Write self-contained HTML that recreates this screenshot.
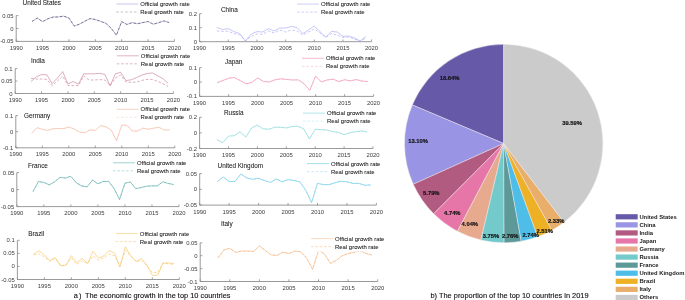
<!DOCTYPE html>
<html><head><meta charset="utf-8"><title>chart</title>
<style>
html,body{margin:0;padding:0;background:#fff;}
body{width:685px;height:300px;overflow:hidden;}
svg{display:block;font-family:"Liberation Sans",sans-serif;will-change:transform;filter:opacity(0.9999);}
.tk{font-size:5.9px;fill:#3a3a3a;}
.lg{font-size:5.95px;fill:#1a1a1a;stroke:#1a1a1a;stroke-width:0.06px;}
.tt{font-size:6.4px;fill:#1a1a1a;stroke:#1a1a1a;stroke-width:0.06px;}
.pl{font-size:5.8px;font-weight:bold;fill:#141414;stroke:#141414;stroke-width:0.18px;}
.pg{font-size:5.85px;font-weight:bold;fill:#1a1a1a;}
.cap{font-size:7.4px;fill:#111;stroke:#111;stroke-width:0.12px;}
</style></head><body>
<svg width="685" height="300" viewBox="0 0 685 300">
<rect width="685" height="300" fill="#fff"/>
<g>
<path d="M16.2 15.6V41.4H174.4" fill="none" stroke="#888888" stroke-width="0.85"/>
<path d="M16.2 41.4v-2.2M42.57 41.4v-2.2M68.93 41.4v-2.2M95.3 41.4v-2.2M121.67 41.4v-2.2M148.03 41.4v-2.2M174.4 41.4v-2.2M16.2 41.4h2.2M16.2 28.5h2.2M16.2 15.6h2.2" fill="none" stroke="#8c8c8c" stroke-width="0.8"/>
<text x="16.2" y="49.8" text-anchor="middle" class="tk">1990</text>
<text x="42.57" y="49.8" text-anchor="middle" class="tk">1995</text>
<text x="68.93" y="49.8" text-anchor="middle" class="tk">2000</text>
<text x="95.3" y="49.8" text-anchor="middle" class="tk">2005</text>
<text x="121.67" y="49.8" text-anchor="middle" class="tk">2010</text>
<text x="148.03" y="49.8" text-anchor="middle" class="tk">2015</text>
<text x="174.4" y="49.8" text-anchor="middle" class="tk">2020</text>
<text x="13.6" y="43.4" text-anchor="end" class="tk">-0.05</text>
<text x="13.6" y="30.5" text-anchor="end" class="tk">0</text>
<text x="13.6" y="17.6" text-anchor="end" class="tk">0.05</text>
<text x="22.6" y="4.8" class="tt">United States</text>
<polyline points="32.02,21.41 37.29,18.1 42.57,21.59 47.84,18.77 53.11,17.02 58.39,16.94 63.66,16.14 68.93,17.97 74.21,26.05 79.48,24.11 84.75,21.28 90.03,18.57 95.3,19.52 100.57,21.33 105.85,23.31 111.12,28.19 116.39,35.21 121.67,21.53 126.94,24.5 132.21,22.62 137.49,23.75 142.76,22.59 148.03,21.51 153.31,24.19 158.58,22.72 163.85,20.89 169.13,22.59" fill="none" stroke="#8f8fd6" stroke-width="0.55" stroke-linejoin="round"/>
<polyline points="32.02,21.41 37.29,18.1 42.57,21.59 47.84,18.77 53.11,17.02 58.39,16.94 63.66,16.14 68.93,17.97 74.21,26.05 79.48,24.11 84.75,21.28 90.03,18.57 95.3,19.52 100.57,21.33 105.85,23.31 111.12,28.19 116.39,35.21 121.67,21.53 126.94,24.5 132.21,22.62 137.49,23.75 142.76,22.59 148.03,21.51 153.31,24.19 158.58,22.72 163.85,20.89 169.13,22.59" fill="none" stroke="#3a3a3a" stroke-width="0.55" stroke-dasharray="2.6 1.8" stroke-linejoin="round"/>
<path d="M116.3 4h22" stroke="#8f8fd6" stroke-width="0.5"/>
<path d="M116.3 12h22" stroke="#8a8a8a" stroke-width="0.5" stroke-dasharray="2.5 1.9"/>
<text x="140.3" y="6" class="lg">Official growth rate</text>
<text x="140.3" y="14" class="lg">Real growth rate</text>
</g>
<g>
<path d="M15.2 68.6V93.5H173.4" fill="none" stroke="#888888" stroke-width="0.85"/>
<path d="M15.2 93.5v-2.2M41.57 93.5v-2.2M67.93 93.5v-2.2M94.3 93.5v-2.2M120.67 93.5v-2.2M147.03 93.5v-2.2M173.4 93.5v-2.2M15.2 93.5h2.2M15.2 81.05h2.2M15.2 68.6h2.2" fill="none" stroke="#8c8c8c" stroke-width="0.8"/>
<text x="15.2" y="101.9" text-anchor="middle" class="tk">1990</text>
<text x="41.57" y="101.9" text-anchor="middle" class="tk">1995</text>
<text x="67.93" y="101.9" text-anchor="middle" class="tk">2000</text>
<text x="94.3" y="101.9" text-anchor="middle" class="tk">2005</text>
<text x="120.67" y="101.9" text-anchor="middle" class="tk">2010</text>
<text x="147.03" y="101.9" text-anchor="middle" class="tk">2015</text>
<text x="173.4" y="101.9" text-anchor="middle" class="tk">2020</text>
<text x="12.6" y="95.5" text-anchor="end" class="tk">0</text>
<text x="12.6" y="83.05" text-anchor="end" class="tk">0.05</text>
<text x="12.6" y="70.6" text-anchor="end" class="tk">0.1</text>
<text x="31" y="62.6" class="tt">India</text>
<polyline points="31.02,81.55 36.29,76.82 41.57,74.58 46.84,74.83 52.11,83.54 57.39,78.06 62.66,71.59 67.93,84.04 73.21,81.55 78.48,84.04 83.75,73.83 89.03,73.83 94.3,73.83 99.57,73.33 104.85,74.33 110.12,85.78 115.39,73.83 120.67,72.33 125.94,80.55 131.21,79.8 136.49,77.56 141.76,75.07 147.03,73.58 152.31,72.83 157.58,75.82 162.85,78.56 168.13,83.29" fill="none" stroke="#c06a86" stroke-width="0.55" stroke-linejoin="round"/>
<polyline points="31.02,78.4 36.29,79 41.57,79 46.84,79.4 52.11,85.6 57.39,81 62.66,76 67.93,85.6 73.21,85.6 78.48,85.6 83.75,76 89.03,80 94.3,80 99.57,79.6 104.85,80 110.12,85.6 115.39,78 120.67,75 125.94,82 131.21,82.4 136.49,82 141.76,80.4 147.03,79.4 152.31,79.4 157.58,81.4 162.85,83.6 168.13,86.4" fill="none" stroke="#c06a86" stroke-width="0.55" stroke-dasharray="2.6 1.8" stroke-linejoin="round"/>
<path d="M116.8 55.8h22" stroke="#c06a86" stroke-width="0.5"/>
<path d="M116.8 63.8h22" stroke="#c06a86" stroke-width="0.5" stroke-dasharray="2.5 1.9"/>
<text x="140.8" y="57.8" class="lg">Official growth rate</text>
<text x="140.8" y="65.8" class="lg">Real growth rate</text>
</g>
<g>
<path d="M15.8 115.6V147.8H174.8" fill="none" stroke="#888888" stroke-width="0.85"/>
<path d="M15.8 147.8v-2.2M42.3 147.8v-2.2M68.8 147.8v-2.2M95.3 147.8v-2.2M121.8 147.8v-2.2M148.3 147.8v-2.2M174.8 147.8v-2.2M15.8 147.8h2.2M15.8 131.7h2.2M15.8 115.6h2.2" fill="none" stroke="#8c8c8c" stroke-width="0.8"/>
<text x="15.8" y="156.2" text-anchor="middle" class="tk">1990</text>
<text x="42.3" y="156.2" text-anchor="middle" class="tk">1995</text>
<text x="68.8" y="156.2" text-anchor="middle" class="tk">2000</text>
<text x="95.3" y="156.2" text-anchor="middle" class="tk">2005</text>
<text x="121.8" y="156.2" text-anchor="middle" class="tk">2010</text>
<text x="148.3" y="156.2" text-anchor="middle" class="tk">2015</text>
<text x="174.8" y="156.2" text-anchor="middle" class="tk">2020</text>
<text x="13.2" y="149.8" text-anchor="end" class="tk">-0.1</text>
<text x="13.2" y="133.7" text-anchor="end" class="tk">0</text>
<text x="13.2" y="117.6" text-anchor="end" class="tk">0.1</text>
<text x="24" y="118" class="tt">Germany</text>
<polyline points="31.7,133.31 37,127.67 42.3,129.28 47.6,130.41 52.9,128.8 58.2,128.48 63.5,128.64 68.8,127.03 74.1,128.96 79.4,132.02 84.7,132.83 90,129.77 95.3,130.57 100.6,125.58 105.9,126.87 111.2,130.09 116.5,140.88 121.8,124.94 127.1,125.42 132.4,131.06 137.7,131.06 143,128.16 148.3,129.28 153.6,128.16 158.9,127.35 164.2,129.93 169.5,129.93" fill="none" stroke="#f2a58c" stroke-width="0.55" stroke-linejoin="round"/>
<polyline points="31.7,133.31 37,127.67 42.3,129.28 47.6,130.41 52.9,128.8 58.2,128.48 63.5,128.64 68.8,127.03 74.1,128.96 79.4,132.02 84.7,132.83 90,129.77 95.3,130.57 100.6,125.58 105.9,126.87 111.2,130.09 116.5,140.88 121.8,124.94 127.1,125.42 132.4,131.06 137.7,131.06 143,128.16 148.3,129.28 153.6,128.16 158.9,127.35 164.2,129.93 169.5,129.93" fill="none" stroke="#f7cdbd" stroke-width="0.55" stroke-dasharray="2.6 1.8" stroke-linejoin="round"/>
<path d="M116.6 109.3h22" stroke="#f2a58c" stroke-width="0.5"/>
<path d="M116.6 117.3h22" stroke="#f7cdbd" stroke-width="0.5" stroke-dasharray="2.5 1.9"/>
<text x="140.6" y="111.3" class="lg">Official growth rate</text>
<text x="140.6" y="119.3" class="lg">Real growth rate</text>
</g>
<g>
<path d="M16.8 172.6V206.6H179" fill="none" stroke="#888888" stroke-width="0.85"/>
<path d="M16.8 206.6v-2.2M43.83 206.6v-2.2M70.87 206.6v-2.2M97.9 206.6v-2.2M124.93 206.6v-2.2M151.97 206.6v-2.2M179 206.6v-2.2M16.8 206.6h2.2M16.8 189.6h2.2M16.8 172.6h2.2" fill="none" stroke="#8c8c8c" stroke-width="0.8"/>
<text x="16.8" y="215" text-anchor="middle" class="tk">1990</text>
<text x="43.83" y="215" text-anchor="middle" class="tk">1995</text>
<text x="70.87" y="215" text-anchor="middle" class="tk">2000</text>
<text x="97.9" y="215" text-anchor="middle" class="tk">2005</text>
<text x="124.93" y="215" text-anchor="middle" class="tk">2010</text>
<text x="151.97" y="215" text-anchor="middle" class="tk">2015</text>
<text x="179" y="215" text-anchor="middle" class="tk">2020</text>
<text x="14.2" y="208.6" text-anchor="end" class="tk">-0.05</text>
<text x="14.2" y="191.6" text-anchor="end" class="tk">0</text>
<text x="14.2" y="174.6" text-anchor="end" class="tk">0.05</text>
<text x="28" y="167.6" class="tt">France</text>
<polyline points="33.02,191.64 38.43,181.44 43.83,182.46 49.24,184.84 54.65,181.78 60.05,177.36 65.46,178.04 70.87,176.34 76.27,182.8 81.68,185.86 87.09,186.88 92.49,180.08 97.9,183.82 103.31,181.44 108.71,181.44 114.12,188.58 119.53,199.46 124.93,183.14 130.34,182.12 135.75,188.58 141.15,187.56 146.56,186.2 151.97,185.86 157.37,185.86 162.78,181.78 168.19,183.48 173.59,184.5" fill="none" stroke="#45a0a0" stroke-width="0.55" stroke-linejoin="round"/>
<polyline points="33.02,191.64 38.43,181.44 43.83,182.46 49.24,184.84 54.65,181.78 60.05,177.36 65.46,178.04 70.87,176.34 76.27,182.8 81.68,185.86 87.09,186.88 92.49,180.08 97.9,183.82 103.31,181.44 108.71,181.44 114.12,188.58 119.53,199.46 124.93,183.14 130.34,182.12 135.75,188.58 141.15,187.56 146.56,186.2 151.97,185.86 157.37,185.86 162.78,181.78 168.19,183.48 173.59,184.5" fill="none" stroke="#6fbcbc" stroke-width="0.55" stroke-dasharray="2.6 1.8" stroke-linejoin="round"/>
<path d="M113 162.8h22" stroke="#45a0a0" stroke-width="0.5"/>
<path d="M113 170.8h22" stroke="#6fbcbc" stroke-width="0.5" stroke-dasharray="2.5 1.9"/>
<text x="137" y="164.8" class="lg">Official growth rate</text>
<text x="137" y="172.8" class="lg">Real growth rate</text>
</g>
<g>
<path d="M17.4 240.3V279.5H179.3" fill="none" stroke="#888888" stroke-width="0.85"/>
<path d="M17.4 279.5v-2.2M44.38 279.5v-2.2M71.37 279.5v-2.2M98.35 279.5v-2.2M125.33 279.5v-2.2M152.32 279.5v-2.2M179.3 279.5v-2.2M17.4 279.5h2.2M17.4 266.43h2.2M17.4 253.37h2.2M17.4 240.3h2.2" fill="none" stroke="#8c8c8c" stroke-width="0.8"/>
<text x="17.4" y="287.9" text-anchor="middle" class="tk">1990</text>
<text x="44.38" y="287.9" text-anchor="middle" class="tk">1995</text>
<text x="71.37" y="287.9" text-anchor="middle" class="tk">2000</text>
<text x="98.35" y="287.9" text-anchor="middle" class="tk">2005</text>
<text x="125.33" y="287.9" text-anchor="middle" class="tk">2010</text>
<text x="152.32" y="287.9" text-anchor="middle" class="tk">2015</text>
<text x="179.3" y="287.9" text-anchor="middle" class="tk">2020</text>
<text x="14.8" y="281.5" text-anchor="end" class="tk">-0.05</text>
<text x="14.8" y="268.43" text-anchor="end" class="tk">0</text>
<text x="14.8" y="255.37" text-anchor="end" class="tk">0.05</text>
<text x="14.8" y="242.3" text-anchor="end" class="tk">0.1</text>
<text x="28.2" y="236" class="tt">Brazil</text>
<polyline points="33.59,254.15 38.99,250.75 44.38,254.93 49.78,260.68 55.18,257.55 60.57,265.65 65.97,265.13 71.37,255.72 76.76,262.77 82.16,258.33 87.56,263.56 92.95,251.28 98.35,258.07 103.75,255.98 109.14,250.49 114.54,253.11 119.94,266.69 125.33,246.83 130.73,255.98 136.13,261.47 141.52,258.59 146.92,265.13 152.32,275.58 157.71,275.06 163.11,263.04 168.51,263.04 173.9,263.56" fill="none" stroke="#f6bb4a" stroke-width="0.55" stroke-linejoin="round"/>
<polyline points="33.59,254.9 38.99,253.9 44.38,256.8 49.78,261.3 55.18,258.4 60.57,265.9 65.97,265.3 71.37,258.1 76.76,264.5 82.16,260.8 87.56,263.5 92.95,256 98.35,260 103.75,258 109.14,254 114.54,255.8 119.94,266.6 125.33,250.4 130.73,255.8 136.13,261.6 141.52,260.3 146.92,265.7 152.32,272.5 157.71,272.5 163.11,263 168.51,263.9 173.9,264.4" fill="none" stroke="#f6bb4a" stroke-width="0.55" stroke-dasharray="2.6 1.8" stroke-linejoin="round"/>
<path d="M115.8 233.6h22" stroke="#f6bb4a" stroke-width="0.5"/>
<path d="M115.8 241.6h22" stroke="#f6bb4a" stroke-width="0.5" stroke-dasharray="2.5 1.9"/>
<text x="139.8" y="235.6" class="lg">Official growth rate</text>
<text x="139.8" y="243.6" class="lg">Real growth rate</text>
</g>
<g>
<path d="M199.6 13.7V41.7H371.6" fill="none" stroke="#888888" stroke-width="0.85"/>
<path d="M199.6 41.7v-2.2M228.27 41.7v-2.2M256.93 41.7v-2.2M285.6 41.7v-2.2M314.27 41.7v-2.2M342.93 41.7v-2.2M371.6 41.7v-2.2M199.6 41.7h2.2M199.6 27.7h2.2M199.6 13.7h2.2" fill="none" stroke="#8c8c8c" stroke-width="0.8"/>
<text x="199.6" y="50.1" text-anchor="middle" class="tk">1990</text>
<text x="228.27" y="50.1" text-anchor="middle" class="tk">1995</text>
<text x="256.93" y="50.1" text-anchor="middle" class="tk">2000</text>
<text x="285.6" y="50.1" text-anchor="middle" class="tk">2005</text>
<text x="314.27" y="50.1" text-anchor="middle" class="tk">2010</text>
<text x="342.93" y="50.1" text-anchor="middle" class="tk">2015</text>
<text x="371.6" y="50.1" text-anchor="middle" class="tk">2020</text>
<text x="197" y="43.7" text-anchor="end" class="tk">0</text>
<text x="197" y="29.7" text-anchor="end" class="tk">0.1</text>
<text x="197" y="15.7" text-anchor="end" class="tk">0.2</text>
<text x="221" y="11.6" class="tt">China</text>
<polyline points="216.8,27.3 222.53,29.6 228.27,28.6 234,31.6 239.73,33.6 245.47,41 251.2,34 256.93,31.6 262.67,32 268.4,28.6 274.13,31 279.87,28 285.6,28 291.33,26.4 297.07,27.6 302.8,33.6 308.53,30 314.27,26 320,31.6 325.73,37 331.47,31.4 337.2,32 342.93,36.4 348.67,36 354.4,38 360.13,41 365.87,36.4" fill="none" stroke="#9a9af0" stroke-width="0.55" stroke-linejoin="round"/>
<polyline points="216.8,31 222.53,31.4 228.27,31.2 234,33.6 239.73,35 245.47,41 251.2,36.4 256.93,34 262.67,34.4 268.4,31 274.13,33 279.87,30 285.6,32 291.33,30 297.07,31 302.8,35 308.53,32 314.27,29 320,33 325.73,37.6 331.47,33.6 337.2,35 342.93,37.6 348.67,37 354.4,39 360.13,41.4 365.87,38" fill="none" stroke="#9a9af0" stroke-width="0.55" stroke-dasharray="2.6 1.8" stroke-linejoin="round"/>
<path d="M297 4.1h22" stroke="#9a9af0" stroke-width="0.5"/>
<path d="M297 12.1h22" stroke="#9a9af0" stroke-width="0.5" stroke-dasharray="2.5 1.9"/>
<text x="321" y="6.1" class="lg">Official growth rate</text>
<text x="321" y="14.1" class="lg">Real growth rate</text>
</g>
<g>
<path d="M199.6 67.6V96.4H373.6" fill="none" stroke="#888888" stroke-width="0.85"/>
<path d="M199.6 96.4v-2.2M228.6 96.4v-2.2M257.6 96.4v-2.2M286.6 96.4v-2.2M315.6 96.4v-2.2M344.6 96.4v-2.2M373.6 96.4v-2.2M199.6 96.4h2.2M199.6 82h2.2M199.6 67.6h2.2" fill="none" stroke="#8c8c8c" stroke-width="0.8"/>
<text x="199.6" y="104.8" text-anchor="middle" class="tk">1990</text>
<text x="228.6" y="104.8" text-anchor="middle" class="tk">1995</text>
<text x="257.6" y="104.8" text-anchor="middle" class="tk">2000</text>
<text x="286.6" y="104.8" text-anchor="middle" class="tk">2005</text>
<text x="315.6" y="104.8" text-anchor="middle" class="tk">2010</text>
<text x="344.6" y="104.8" text-anchor="middle" class="tk">2015</text>
<text x="373.6" y="104.8" text-anchor="middle" class="tk">2020</text>
<text x="197" y="98.4" text-anchor="end" class="tk">-0.1</text>
<text x="197" y="84" text-anchor="end" class="tk">0</text>
<text x="197" y="69.6" text-anchor="end" class="tk">0.1</text>
<text x="225" y="63.9" class="tt">Japan</text>
<polyline points="217,82.72 222.8,80.56 228.6,78.26 234.4,77.54 240.2,80.56 246,83.87 251.8,82.43 257.6,77.97 263.4,81.42 269.2,82 275,79.84 280.8,78.83 286.6,79.41 292.4,79.98 298.2,79.84 304,83.73 309.8,90.21 315.6,76.1 321.4,82 327.2,79.98 333,79.12 338.8,81.57 344.6,79.7 350.4,80.85 356.2,79.55 362,81.14 367.8,81.57" fill="none" stroke="#f0769f" stroke-width="0.55" stroke-linejoin="round"/>
<polyline points="217,82.72 222.8,80.56 228.6,78.26 234.4,77.54 240.2,80.56 246,83.87 251.8,82.43 257.6,77.97 263.4,81.42 269.2,82 275,79.84 280.8,78.83 286.6,79.41 292.4,79.98 298.2,79.84 304,83.73 309.8,90.21 315.6,76.1 321.4,82 327.2,79.98 333,79.12 338.8,81.57 344.6,79.7 350.4,80.85 356.2,79.55 362,81.14 367.8,81.57" fill="none" stroke="#f6a8c2" stroke-width="0.55" stroke-dasharray="2.6 1.8" stroke-linejoin="round"/>
<path d="M302 58.3h22" stroke="#f0769f" stroke-width="0.5"/>
<path d="M302 66.3h22" stroke="#f6a8c2" stroke-width="0.5" stroke-dasharray="2.5 1.9"/>
<text x="326" y="60.3" class="lg">Official growth rate</text>
<text x="326" y="68.3" class="lg">Real growth rate</text>
</g>
<g>
<path d="M199.6 117.3V148.5H373" fill="none" stroke="#888888" stroke-width="0.85"/>
<path d="M199.6 148.5v-2.2M228.5 148.5v-2.2M257.4 148.5v-2.2M286.3 148.5v-2.2M315.2 148.5v-2.2M344.1 148.5v-2.2M373 148.5v-2.2M199.6 148.5h2.2M199.6 132.9h2.2M199.6 117.3h2.2" fill="none" stroke="#8c8c8c" stroke-width="0.8"/>
<text x="199.6" y="156.9" text-anchor="middle" class="tk">1990</text>
<text x="228.5" y="156.9" text-anchor="middle" class="tk">1995</text>
<text x="257.4" y="156.9" text-anchor="middle" class="tk">2000</text>
<text x="286.3" y="156.9" text-anchor="middle" class="tk">2005</text>
<text x="315.2" y="156.9" text-anchor="middle" class="tk">2010</text>
<text x="344.1" y="156.9" text-anchor="middle" class="tk">2015</text>
<text x="373" y="156.9" text-anchor="middle" class="tk">2020</text>
<text x="197" y="150.5" text-anchor="end" class="tk">-0.2</text>
<text x="197" y="134.9" text-anchor="end" class="tk">0</text>
<text x="197" y="119.3" text-anchor="end" class="tk">0.2</text>
<text x="224" y="114.6" class="tt">Russia</text>
<polyline points="216.94,139.69 222.72,142.73 228.5,136.1 234.28,135.71 240.06,131.81 245.84,137.03 251.62,127.91 257.4,125.1 263.18,128.92 268.96,129.23 274.74,127.21 280.52,127.28 286.3,127.91 292.08,126.5 297.86,126.27 303.64,128.84 309.42,138.98 315.2,129.39 320.98,129.55 326.76,130.01 332.54,131.5 338.32,132.35 344.1,134.69 349.88,132.67 355.66,131.65 361.44,130.95 367.22,131.89" fill="none" stroke="#6dcfd2" stroke-width="0.55" stroke-linejoin="round"/>
<polyline points="216.94,139.69 222.72,142.73 228.5,136.1 234.28,135.71 240.06,131.81 245.84,137.03 251.62,127.91 257.4,125.1 263.18,128.92 268.96,129.23 274.74,127.21 280.52,127.28 286.3,127.91 292.08,126.5 297.86,126.27 303.64,128.84 309.42,138.98 315.2,129.39 320.98,129.55 326.76,130.01 332.54,131.5 338.32,132.35 344.1,134.69 349.88,132.67 355.66,131.65 361.44,130.95 367.22,131.89" fill="none" stroke="#a4e2e4" stroke-width="0.55" stroke-dasharray="2.6 1.8" stroke-linejoin="round"/>
<path d="M303 113.1h22" stroke="#6dcfd2" stroke-width="0.5"/>
<path d="M303 121.1h22" stroke="#a4e2e4" stroke-width="0.5" stroke-dasharray="2.5 1.9"/>
<text x="327" y="115.1" class="lg">Official growth rate</text>
<text x="327" y="123.1" class="lg">Real growth rate</text>
</g>
<g>
<path d="M199.7 173.6V205.1H376.4" fill="none" stroke="#888888" stroke-width="0.85"/>
<path d="M199.7 205.1v-2.2M229.15 205.1v-2.2M258.6 205.1v-2.2M288.05 205.1v-2.2M317.5 205.1v-2.2M346.95 205.1v-2.2M376.4 205.1v-2.2M199.7 205.1h2.2M199.7 189.35h2.2M199.7 173.6h2.2" fill="none" stroke="#8c8c8c" stroke-width="0.8"/>
<text x="199.7" y="213.5" text-anchor="middle" class="tk">1990</text>
<text x="229.15" y="213.5" text-anchor="middle" class="tk">1995</text>
<text x="258.6" y="213.5" text-anchor="middle" class="tk">2000</text>
<text x="288.05" y="213.5" text-anchor="middle" class="tk">2005</text>
<text x="317.5" y="213.5" text-anchor="middle" class="tk">2010</text>
<text x="346.95" y="213.5" text-anchor="middle" class="tk">2015</text>
<text x="376.4" y="213.5" text-anchor="middle" class="tk">2020</text>
<text x="197.1" y="207.1" text-anchor="end" class="tk">-0.05</text>
<text x="197.1" y="191.35" text-anchor="end" class="tk">0</text>
<text x="197.1" y="175.6" text-anchor="end" class="tk">0.05</text>
<text x="217.6" y="167.7" class="tt">United Kingdom</text>
<polyline points="217.37,181.47 223.26,177.06 229.15,181.47 235.04,181.47 240.93,173.91 246.82,178.01 252.71,179.27 258.6,178.32 264.49,180.53 270.38,182.42 276.27,178.95 282.16,181.79 288.05,179.59 293.94,180.53 299.83,181.79 305.72,190.29 311.61,202.58 317.5,183.36 323.39,184.62 329.28,184.62 335.17,182.73 341.06,181.16 346.95,181.79 352.84,183.36 358.73,183.36 364.62,185.25 370.51,184.94" fill="none" stroke="#43bcdd" stroke-width="0.55" stroke-linejoin="round"/>
<polyline points="217.37,181.47 223.26,177.06 229.15,181.47 235.04,181.47 240.93,173.91 246.82,178.01 252.71,179.27 258.6,178.32 264.49,180.53 270.38,182.42 276.27,178.95 282.16,181.79 288.05,179.59 293.94,180.53 299.83,181.79 305.72,190.29 311.61,202.58 317.5,183.36 323.39,184.62 329.28,184.62 335.17,182.73 341.06,181.16 346.95,181.79 352.84,183.36 358.73,183.36 364.62,185.25 370.51,184.94" fill="none" stroke="#8dd8ee" stroke-width="0.55" stroke-dasharray="2.6 1.8" stroke-linejoin="round"/>
<path d="M307 163.6h22" stroke="#43bcdd" stroke-width="0.5"/>
<path d="M307 171.6h22" stroke="#8dd8ee" stroke-width="0.5" stroke-dasharray="2.5 1.9"/>
<text x="331" y="165.6" class="lg">Official growth rate</text>
<text x="331" y="173.6" class="lg">Real growth rate</text>
</g>
<g>
<path d="M200.2 242.8V281.5H377.7" fill="none" stroke="#888888" stroke-width="0.85"/>
<path d="M200.2 281.5v-2.2M229.78 281.5v-2.2M259.37 281.5v-2.2M288.95 281.5v-2.2M318.53 281.5v-2.2M348.12 281.5v-2.2M377.7 281.5v-2.2M200.2 281.5h2.2M200.2 268.6h2.2M200.2 255.7h2.2M200.2 242.8h2.2" fill="none" stroke="#8c8c8c" stroke-width="0.8"/>
<text x="200.2" y="289.9" text-anchor="middle" class="tk">1990</text>
<text x="229.78" y="289.9" text-anchor="middle" class="tk">1995</text>
<text x="259.37" y="289.9" text-anchor="middle" class="tk">2000</text>
<text x="288.95" y="289.9" text-anchor="middle" class="tk">2005</text>
<text x="318.53" y="289.9" text-anchor="middle" class="tk">2010</text>
<text x="348.12" y="289.9" text-anchor="middle" class="tk">2015</text>
<text x="377.7" y="289.9" text-anchor="middle" class="tk">2020</text>
<text x="197.6" y="283.5" text-anchor="end" class="tk">-0.1</text>
<text x="197.6" y="270.6" text-anchor="end" class="tk">-0.05</text>
<text x="197.6" y="257.7" text-anchor="end" class="tk">0</text>
<text x="197.6" y="244.8" text-anchor="end" class="tk">0.05</text>
<text x="221" y="226" class="tt">Italy</text>
<polyline points="217.95,258.02 223.87,250.02 229.78,248.22 235.7,252.35 241.62,251.06 247.53,251.06 253.45,251.57 259.37,245.9 265.28,250.54 271.2,254.93 277.12,255.44 283.03,252.09 288.95,253.64 294.87,251.06 300.78,251.83 306.7,258.28 312.62,269.37 318.53,250.28 324.45,253.89 330.37,263.44 336.28,260.34 342.2,255.7 348.12,253.64 354.03,252.35 359.95,250.54 365.87,253.38 371.78,254.93" fill="none" stroke="#f5b47c" stroke-width="0.55" stroke-linejoin="round"/>
<polyline points="217.95,258.02 223.87,250.02 229.78,248.22 235.7,252.35 241.62,251.06 247.53,251.06 253.45,251.57 259.37,245.9 265.28,250.54 271.2,254.93 277.12,255.44 283.03,252.09 288.95,253.64 294.87,251.06 300.78,251.83 306.7,258.28 312.62,269.37 318.53,250.28 324.45,253.89 330.37,263.44 336.28,260.34 342.2,255.7 348.12,253.64 354.03,252.35 359.95,250.54 365.87,253.38 371.78,254.93" fill="none" stroke="#f5b47c" stroke-width="0.55" stroke-dasharray="2.6 1.8" stroke-linejoin="round"/>
<rect x="309.5" y="235" width="76" height="16.4" fill="#fff"/>
<path d="M311 238.6h22" stroke="#f5b47c" stroke-width="0.5"/>
<path d="M311 246.6h22" stroke="#f5b47c" stroke-width="0.5" stroke-dasharray="2.5 1.9"/>
<text x="335" y="240.6" class="lg">Official growth rate</text>
<text x="335" y="248.6" class="lg">Real growth rate</text>
</g>
<g>
<path d="M503.7 143.5L503.7 44.3A99.2 99.2 0 0 0 412.31 104.92Z" fill="#6659a8" stroke="#f3eef0" stroke-width="0.45" stroke-linejoin="round"/>
<path d="M503.7 143.5L412.31 104.92A99.2 99.2 0 0 0 413.27 184.28Z" fill="#9a94e4" stroke="#f3eef0" stroke-width="0.45" stroke-linejoin="round"/>
<path d="M503.7 143.5L413.27 184.28A99.2 99.2 0 0 0 433.7 213.79Z" fill="#b15b80" stroke="#f3eef0" stroke-width="0.45" stroke-linejoin="round"/>
<path d="M503.7 143.5L433.7 213.79A99.2 99.2 0 0 0 457.41 231.24Z" fill="#e675a8" stroke="#f3eef0" stroke-width="0.45" stroke-linejoin="round"/>
<path d="M503.7 143.5L457.41 231.24A99.2 99.2 0 0 0 480.93 240.05Z" fill="#e8aa8e" stroke="#f3eef0" stroke-width="0.45" stroke-linejoin="round"/>
<path d="M503.7 143.5L480.93 240.05A99.2 99.2 0 0 0 504.11 242.7Z" fill="#74c9ca" stroke="#f3eef0" stroke-width="0.45" stroke-linejoin="round"/>
<path d="M503.7 143.5L504.11 242.7A99.2 99.2 0 0 0 521.22 241.14Z" fill="#5c9998" stroke="#f3eef0" stroke-width="0.45" stroke-linejoin="round"/>
<path d="M503.7 143.5L521.22 241.14A99.2 99.2 0 0 0 537.69 236.7Z" fill="#4ebde8" stroke="#f3eef0" stroke-width="0.45" stroke-linejoin="round"/>
<path d="M503.7 143.5L537.69 236.7A99.2 99.2 0 0 0 551.9 230.2Z" fill="#eeb126" stroke="#f3eef0" stroke-width="0.45" stroke-linejoin="round"/>
<path d="M503.7 143.5L551.9 230.2A99.2 99.2 0 0 0 564.04 222.24Z" fill="#e8ae6a" stroke="#f3eef0" stroke-width="0.45" stroke-linejoin="round"/>
<path d="M503.7 143.5L564.04 222.24A99.2 99.2 0 0 0 503.7 44.3Z" fill="#cbcbcb" stroke="#f3eef0" stroke-width="0.45" stroke-linejoin="round"/>
<text x="449.6" y="80" text-anchor="middle" class="pl">18.64%</text>
<text x="418" y="143.1" text-anchor="middle" class="pl">13.10%</text>
<text x="431.3" y="195.4" text-anchor="middle" class="pl">5.79%</text>
<text x="452.3" y="214.7" text-anchor="middle" class="pl">4.74%</text>
<text x="469.8" y="226.4" text-anchor="middle" class="pl">4.04%</text>
<text x="491" y="238.1" text-anchor="middle" class="pl">3.75%</text>
<text x="510.2" y="238.1" text-anchor="middle" class="pl">2.76%</text>
<text x="530.7" y="237.4" text-anchor="middle" class="pl">2.74%</text>
<text x="544.7" y="232.9" text-anchor="middle" class="pl">2.51%</text>
<text x="556.1" y="222.9" text-anchor="middle" class="pl">2.33%</text>
<text x="572" y="125.3" text-anchor="middle" class="pl">39.59%</text>
<rect x="615.7" y="214.2" width="22" height="5.2" fill="#6659a8"/>
<text x="639.4" y="218.7" class="pg">United States</text>
<rect x="615.7" y="222.26" width="22" height="5.2" fill="#9a94e4"/>
<text x="639.4" y="226.76" class="pg">China</text>
<rect x="615.7" y="230.32" width="22" height="5.2" fill="#b15b80"/>
<text x="639.4" y="234.82" class="pg">India</text>
<rect x="615.7" y="238.38" width="22" height="5.2" fill="#e675a8"/>
<text x="639.4" y="242.88" class="pg">Japan</text>
<rect x="615.7" y="246.44" width="22" height="5.2" fill="#e8aa8e"/>
<text x="639.4" y="250.94" class="pg">Germany</text>
<rect x="615.7" y="254.5" width="22" height="5.2" fill="#74c9ca"/>
<text x="639.4" y="259" class="pg">Russia</text>
<rect x="615.7" y="262.56" width="22" height="5.2" fill="#5c9998"/>
<text x="639.4" y="267.06" class="pg">France</text>
<rect x="615.7" y="270.62" width="22" height="5.2" fill="#4ebde8"/>
<text x="639.4" y="275.12" class="pg">United Kingdom</text>
<rect x="615.7" y="278.68" width="22" height="5.2" fill="#eeb126"/>
<text x="639.4" y="283.18" class="pg">Brazil</text>
<rect x="615.7" y="286.74" width="22" height="5.2" fill="#e8ae6a"/>
<text x="639.4" y="291.24" class="pg">Italy</text>
<rect x="615.7" y="294.8" width="22" height="5.2" fill="#cbcbcb"/>
<text x="639.4" y="299.3" class="pg">Others</text>
</g>
<text x="73.7" y="298.2" class="cap">a</text><text x="79.1" y="298.2" class="cap">)</text><text x="85.0" y="298.2" class="cap">The economic growth in the top 10 countries</text>
<text x="430.5" y="297.9" class="cap">b) The proportion of the top 10 countries in 2019</text>
</svg></body></html>
